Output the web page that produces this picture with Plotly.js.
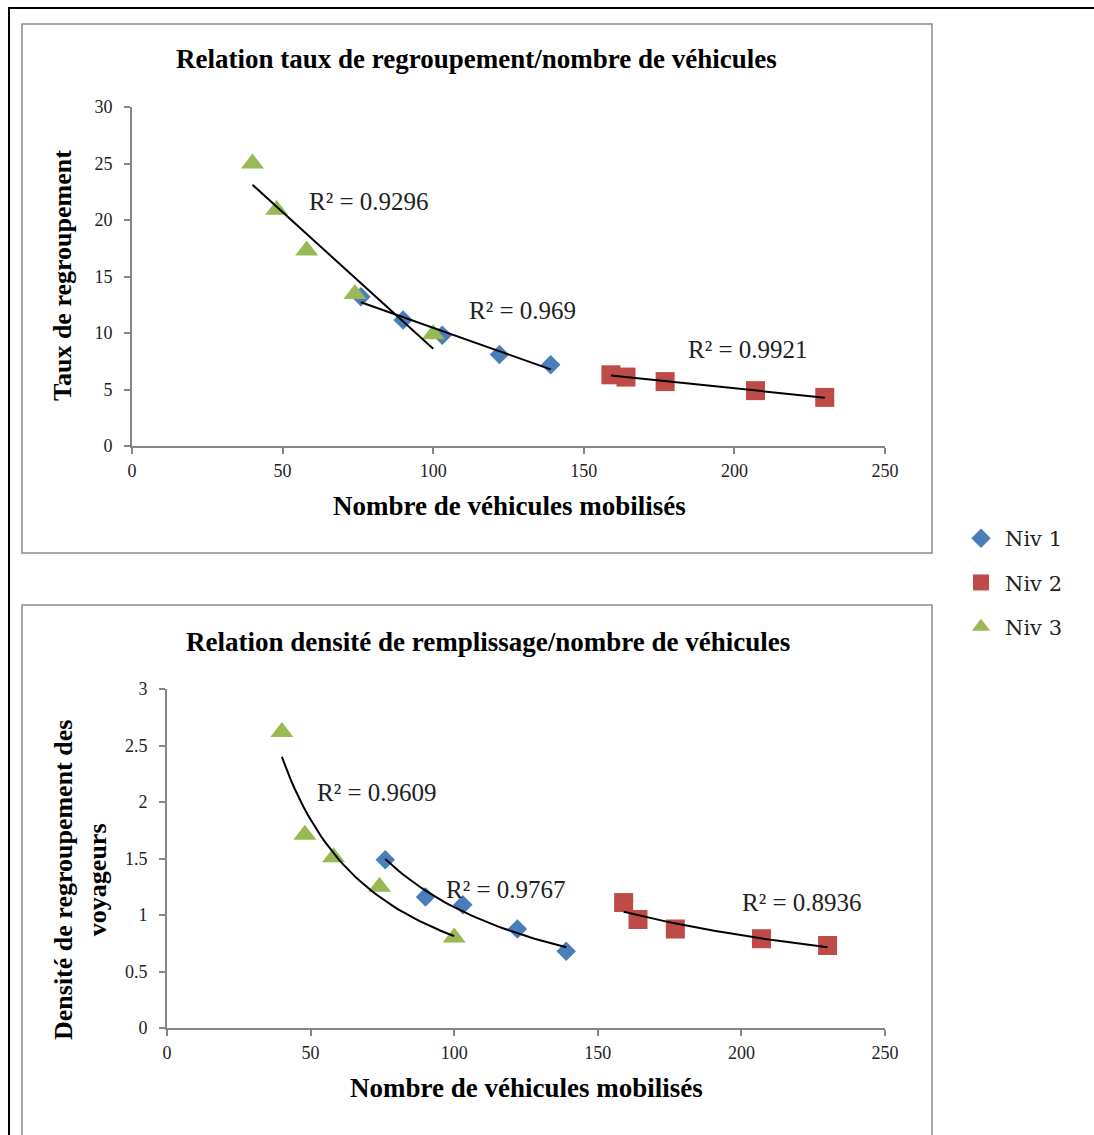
<!DOCTYPE html>
<html>
<head>
<meta charset="utf-8">
<script src="https://cdn.plot.ly/plotly-3.0.1.min.js"></script>
<style>html,body{margin:0;padding:0;background:#fff;}#chart{width:1094px;height:1135px;}</style>
</head>
<body>
<div id="chart"></div>
<script>
// ---- Data ----
const seriesNames = ["Niv 1", "Niv 2", "Niv 3"];
const niv1X = [76, 90, 103, 122, 139];
const niv2X = [159, 164, 177, 207, 230];
const niv3X = [40, 48, 58, 74, 100];
const tauxNiv1 = [13.2, 11.15, 9.8, 8.1, 7.2];
const tauxNiv2 = [6.3, 6.1, 5.7, 4.9, 4.3];
const tauxNiv3 = [25, 20.9, 17.3, 13.45, 9.9];
const densNiv1 = [1.49, 1.16, 1.09, 0.876, 0.68];
const densNiv2 = [1.11, 0.96, 0.876, 0.79, 0.73];
const densNiv3 = [2.62, 1.71, 1.51, 1.25, 0.80];
const r2Taux = ["R² = 0.969", "R² = 0.9921", "R² = 0.9296"];
const r2Dens = ["R² = 0.9767", "R² = 0.8936", "R² = 0.9609"];
const xTickVals = [0, 50, 100, 150, 200, 250];
const tauxTickVals = [0, 5, 10, 15, 20, 25, 30];
const densTickVals = [0, 0.5, 1, 1.5, 2, 2.5, 3];
const densTickText = ["0", "0.5", "1", "1.5", "2", "2.5", "3"];

// ---- Styling ----
const colors = ["#4a7ebb", "#be4b48", "#98b954"];
const symbols = ["diamond", "square", "triangle-up"];
const sizes = [15, 19, 20];
const serif = "Liberation Serif";
const W = 1094, H = 1135;
const px = v => v / W, py = v => 1 - v / H;

// ---- Trendline fits (least squares) ----
function linFit(xs, ys) {
  const n = xs.length, mx = xs.reduce((a,b)=>a+b)/n, my = ys.reduce((a,b)=>a+b)/n;
  let sxx = 0, sxy = 0;
  xs.forEach((x,i)=>{ sxx += (x-mx)*(x-mx); sxy += (x-mx)*(ys[i]-my); });
  const b = sxy/sxx, a = my - b*mx;
  return x => a + b*x;
}
function powFit(xs, ys) {
  const f = linFit(xs.map(Math.log), ys.map(Math.log));
  return x => Math.exp(f(Math.log(x)));
}
function trend(xs, fn) {
  const lo = Math.min(...xs), hi = Math.max(...xs), tx = [], ty = [];
  for (let i = 0; i <= 40; i++) { const x = lo + (hi-lo)*i/40; tx.push(x); ty.push(fn(x)); }
  return {tx, ty};
}

const xsAll = [niv1X, niv2X, niv3X];
const tauxAll = [tauxNiv1, tauxNiv2, tauxNiv3];
const densAll = [densNiv1, densNiv2, densNiv3];

const traces = [];
for (let i = 0; i < 3; i++) {
  traces.push({type:"scatter", mode:"markers", x: xsAll[i], y: tauxAll[i], xaxis:"x", yaxis:"y",
    name: seriesNames[i], legendgroup: seriesNames[i], showlegend: true,
    marker:{symbol: symbols[i], size: sizes[i], color: colors[i], line:{width:0}}, hoverinfo:"skip"});
}
for (let i = 0; i < 3; i++) {
  traces.push({type:"scatter", mode:"markers", x: xsAll[i], y: densAll[i], xaxis:"x2", yaxis:"y2",
    name: seriesNames[i], legendgroup: seriesNames[i], showlegend: false,
    marker:{symbol: symbols[i], size: sizes[i], color: colors[i], line:{width:0}}, hoverinfo:"skip"});
}
for (let i = 0; i < 3; i++) {
  const t1 = trend(xsAll[i], linFit(xsAll[i], tauxAll[i]));
  traces.push({type:"scatter", mode:"lines", x: t1.tx, y: t1.ty, xaxis:"x", yaxis:"y",
    showlegend:false, line:{color:"#000", width:2}, hoverinfo:"skip"});
  const t2 = trend(xsAll[i], powFit(xsAll[i], densAll[i]));
  traces.push({type:"scatter", mode:"lines", x: t2.tx, y: t2.ty, xaxis:"x2", yaxis:"y2",
    showlegend:false, line:{color:"#000", width:2}, hoverinfo:"skip"});
}

function axis(extra) {
  return Object.assign({
    showgrid:false, zeroline:false, showline:true, linecolor:"#868686", linewidth:2,
    ticks:"outside", ticklen:6, tickwidth:2, tickcolor:"#868686", ticklabelstandoff:8,
    tickfont:{family: serif, size:18, color:"#222"}, fixedrange:true
  }, extra);
}

const r2TauxPos = [[129.5, 12.0], [204.5, 8.5], [78.7, 21.6]];
const r2DensPos = [[118, 1.23], [221, 1.115], [73.1, 2.08]];
const annotations = [];
for (let i = 0; i < 3; i++) {
  annotations.push({xref:"x", yref:"y", x:r2TauxPos[i][0], y:r2TauxPos[i][1], text:r2Taux[i], showarrow:false,
    xanchor:"center", yanchor:"middle", font:{family:serif, size:25, color:"#222"}});
  annotations.push({xref:"x2", yref:"y2", x:r2DensPos[i][0], y:r2DensPos[i][1], text:r2Dens[i], showarrow:false,
    xanchor:"center", yanchor:"middle", font:{family:serif, size:25, color:"#222"}});
}
const bold = (t) => "<b>" + t + "</b>";
const titleFont = {family:serif, size:27, color:"#000"};
function paperNote(x, y, text, angle, size) {
  return {xref:"paper", yref:"paper", x:px(x), y:py(y), text:bold(text), showarrow:false,
    xanchor:"center", yanchor:"middle", textangle: angle || 0,
    font:Object.assign({}, titleFont, size ? {size} : {})};
}
annotations.push(
  paperNote(476.5, 59, "Relation taux de regroupement/nombre de véhicules"),
  paperNote(488, 642, "Relation densité de remplissage/nombre de véhicules"),
  paperNote(509, 506, "Nombre de véhicules mobilisés"),
  paperNote(526, 1088, "Nombre de véhicules mobilisés"),
  paperNote(62, 276, "Taux de regroupement", -90, 26),
  paperNote(80, 880, "Densité de regroupement des<br>voyageurs", -90, 26)
);

const shapes = [
  {type:"line", xref:"paper", yref:"paper", x0:px(8), x1:px(1100), y0:py(8), y1:py(8), line:{color:"#000", width:2}},
  {type:"line", xref:"paper", yref:"paper", x0:px(9), x1:px(9), y0:py(8), y1:py(1140), line:{color:"#000", width:2}},
  {type:"rect", xref:"paper", yref:"paper", x0:px(22), x1:px(932), y0:py(24), y1:py(553), line:{color:"#8c8c8c", width:1.5}, layer:"below"},
  {type:"rect", xref:"paper", yref:"paper", x0:px(22), x1:px(932), y0:py(605), y1:py(1150), line:{color:"#8c8c8c", width:1.5}, layer:"below"}
];

const layout = {
  width: W, height: H, margin:{l:0, r:0, t:0, b:0},
  paper_bgcolor:"#fff", plot_bgcolor:"rgba(0,0,0,0)",
  showlegend:true,
  legend:{x:px(957), y:py(518), xanchor:"left", yanchor:"top", font:{family:"DejaVu Serif", size:21, color:"#222"},
    traceorder:"grouped", tracegroupgap:14, itemwidth:38, bgcolor:"rgba(0,0,0,0)"},
  xaxis: axis({domain:[px(132), px(885)], range:[0,250], tickvals:xTickVals, anchor:"y", ticklabelstandoff:1}),
  yaxis: axis({domain:[py(446), py(107)], range:[0,30], tickvals:tauxTickVals, anchor:"x"}),
  xaxis2: axis({domain:[px(167), px(885)], range:[0,250], tickvals:xTickVals, anchor:"y2", ticklabelstandoff:1}),
  yaxis2: axis({domain:[py(1028), py(689)], range:[0,3], tickvals:densTickVals, ticktext:densTickText, anchor:"x2"}),
  annotations, shapes
};

Plotly.newPlot("chart", traces, layout, {staticPlot:true, displayModeBar:false});
</script>
</body>
</html>
